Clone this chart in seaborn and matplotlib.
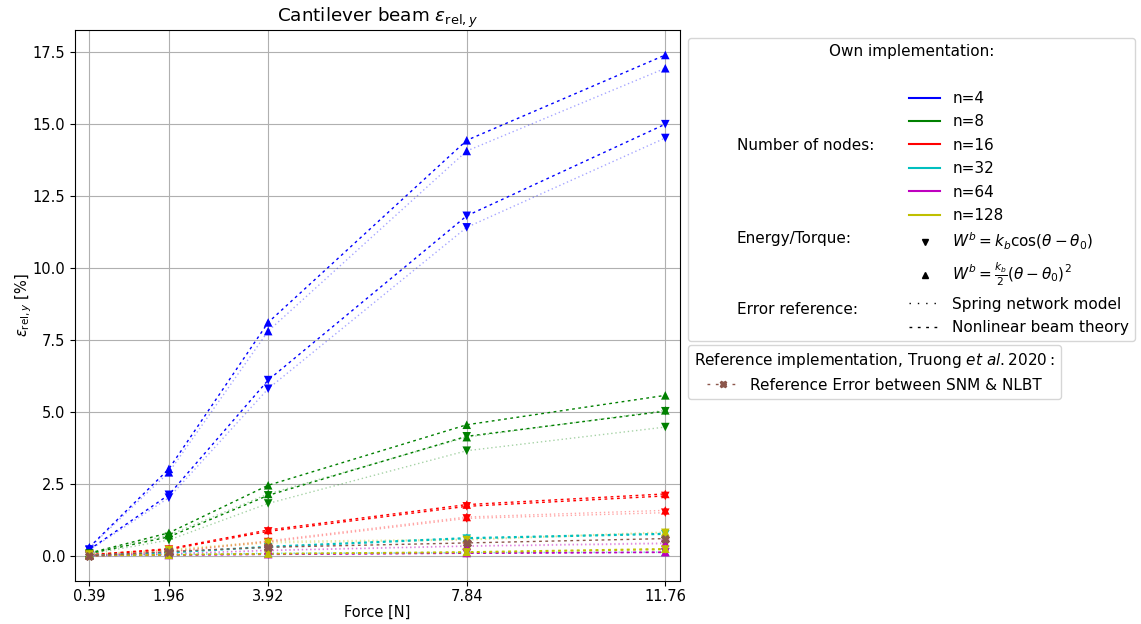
import numpy as np
import pandas as pd
import matplotlib
matplotlib.use("Agg")
import matplotlib.pyplot as plt
import seaborn as sns
from matplotlib.lines import Line2D

# Force levels [N]
force = [0.39, 1.96, 3.92, 7.84, 11.76]
nodes = [4, 8, 16, 32, 64, 128]
node_colors = ["b", "g", "r", "c", "m", "y"]

# relative y error [%] -- cos bending energy (down triangles)
cos_snm = {
    4: [0.20, 2.02, 5.80, 11.40, 14.50],
    8: [0.06, 0.55, 1.82, 3.65, 4.47],
    16: [0.02, 0.13, 0.48, 1.30, 1.50],
    32: [0.01, 0.04, 0.08, 0.10, 0.12],
    64: [0.01, 0.07, 0.18, 0.33, 0.42],
    128: [0.05, 0.20, 0.45, 0.55, 0.80],
}
cos_nlbt = {
    4: [0.22, 2.12, 6.10, 11.80, 14.98],
    8: [0.08, 0.66, 2.10, 4.15, 5.02],
    16: [0.03, 0.22, 0.85, 1.72, 2.08],
    32: [0.02, 0.11, 0.30, 0.60, 0.75],
    64: [0.01, 0.03, 0.05, 0.09, 0.12],
    128: [0.01, 0.04, 0.07, 0.12, 0.22],
}
# relative y error [%] -- harmonic bending energy (up triangles)
harm_snm = {
    4: [0.28, 2.90, 7.80, 14.05, 16.92],
    8: [0.09, 0.72, 2.15, 4.12, 5.05],
    16: [0.03, 0.15, 0.52, 1.35, 1.58],
    32: [0.01, 0.05, 0.10, 0.12, 0.14],
    64: [0.01, 0.08, 0.20, 0.35, 0.45],
    128: [0.06, 0.22, 0.50, 0.58, 0.83],
}
harm_nlbt = {
    4: [0.30, 3.02, 8.10, 14.42, 17.38],
    8: [0.10, 0.80, 2.45, 4.55, 5.57],
    16: [0.04, 0.25, 0.90, 1.78, 2.15],
    32: [0.02, 0.12, 0.33, 0.63, 0.78],
    64: [0.01, 0.03, 0.06, 0.10, 0.13],
    128: [0.01, 0.04, 0.08, 0.14, 0.25],
}
# Truong et al. 2020 reference error between SNM and NLBT
ref_err = [0.00, 0.15, 0.30, 0.45, 0.60]

DOTTED = (0, (1, 2))
DASHED = (0, (2, 2.5))


def build_frame():
    rows = []
    for energy, snm, nlbt in [("cos", cos_snm, cos_nlbt), ("harm", harm_snm, harm_nlbt)]:
        for ref, table in [("SNM", snm), ("NLBT", nlbt)]:
            for n in nodes:
                for f, e in zip(force, table[n]):
                    rows.append({"force": f, "err": e, "n": n, "energy": energy, "ref": ref})
    return pd.DataFrame(rows)


def main():
    plt.rcParams["font.size"] = 10.5
    plt.rcParams["legend.fontsize"] = 11
    plt.rcParams["legend.title_fontsize"] = 11
    df = build_frame()
    fig = plt.figure(figsize=(11.41, 6.24), dpi=100)
    ax = fig.add_axes([0.0657, 0.069, 0.530, 0.883])

    markers = {"cos": "v", "harm": "^"}
    for ref, ls, alpha in [("SNM", DOTTED, 0.35), ("NLBT", DASHED, 1.0)]:
        for n, col in zip(nodes, node_colors):
            for energy in ["cos", "harm"]:
                sub = df[(df["n"] == n) & (df["energy"] == energy) & (df["ref"] == ref)]
                sns.lineplot(data=sub, x="force", y="err", color=col, linestyle=ls,
                             lw=1, alpha=alpha, ax=ax)
    for n, col in zip(nodes, node_colors):
        for energy in ["cos", "harm"]:
            sub = df[(df["n"] == n) & (df["energy"] == energy)]
            sns.scatterplot(data=sub, x="force", y="err", color=col, marker=markers[energy],
                            s=38, edgecolor="none", ax=ax, zorder=3)

    ref_df = pd.DataFrame({"force": force, "err": ref_err})
    sns.lineplot(data=ref_df, x="force", y="err", color="tab:brown", linestyle=DASHED,
                 lw=1, marker="X", markersize=6, markeredgecolor="tab:brown", ax=ax, zorder=4)

    ax.set_xticks(force)
    ax.set_xticklabels([f"{f:.2f}" for f in force])
    ax.set_yticks(np.arange(0, 17.6, 2.5))
    ax.tick_params(axis="x", pad=2)
    ax.margins(x=0.025, y=0.05)
    ax.grid(True, color="#b0b0b0", lw=0.8)
    ax.set_axisbelow(True)
    ax.set_xlabel("Force [N]", labelpad=1)
    ax.set_ylabel(r"$\varepsilon_{\mathrm{rel},y}$ [%]", labelpad=-1)
    ax.set_title(r"Cantilever beam $\varepsilon_{\mathrm{rel},y}$", fontsize=13.2)

    # legend 1: own implementation (two columns, left one only has captions)
    blank = Line2D([], [], linestyle="none")
    col1_labels = [" ", " ", " ", "Number of nodes:", " ", " ", " ",
                   "Energy/Torque:", " ", " ", "Error reference:"]
    col1 = [blank] * len(col1_labels)
    col2 = [blank] + [Line2D([], [], color=c, lw=1.5) for c in node_colors] + [
        Line2D([], [], color="k", marker="v", markersize=4, linestyle="none"),
        Line2D([], [], color="k", marker="^", markersize=4, linestyle="none"),
        Line2D([], [], color="k", lw=1, linestyle=(0, (1, 5))),
        Line2D([], [], color="k", lw=1, linestyle=(0, (2, 4))),
    ]
    col2_labels = [" "] + [f"n={n}" for n in nodes] + [
        r"$W^b = k_b \cos(\theta - \theta_0)$",
        r"$W^b = \frac{k_b}{2}(\theta - \theta_0)^2$",
        "Spring network model",
        "Nonlinear beam theory",
    ]
    leg1 = ax.legend(col1 + col2, col1_labels + col2_labels, ncol=2,
                     title="Own implementation:", labelspacing=0.55,
                     columnspacing=2.3, loc="upper left",
                     bbox_to_anchor=(0.603, 0.939), bbox_transform=fig.transFigure,
                     borderaxespad=0)
    ax.add_artist(leg1)

    ref_handle = Line2D([], [], color="tab:brown", lw=1, linestyle=(0, (2, 4)),
                        marker="X", markersize=5)
    ax.legend([ref_handle], ["Reference Error between SNM & NLBT"],
              title=r"Reference implementation, Truong $\it{et\ al}.2020:$",
              numpoints=1, loc="upper left",
              bbox_to_anchor=(0.603, 0.447), bbox_transform=fig.transFigure,
              borderaxespad=0)

    fig.savefig("out.png", dpi=100)


if __name__ == "__main__":
    main()
